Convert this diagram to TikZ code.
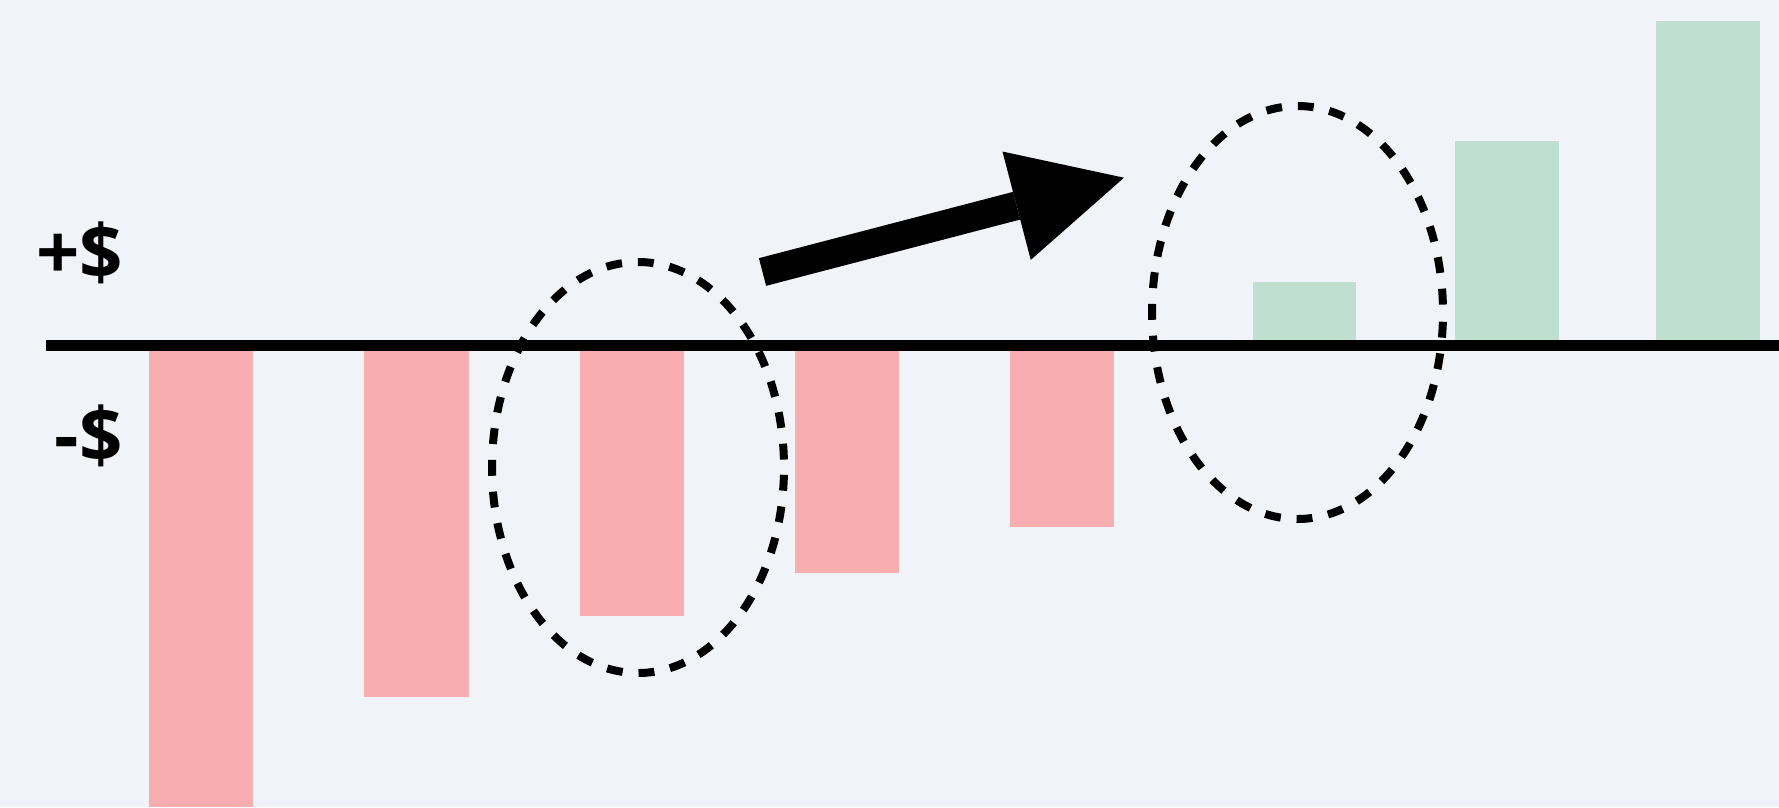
\documentclass[tikz,border=0pt]{standalone}
\usepackage{fontspec}
\setmainfont{Open Sans}
\usetikzlibrary{shapes.geometric,arrows.meta}
\definecolor{bg}{RGB}{240,244,248}
\definecolor{loss}{RGB}{248,174,176}
\definecolor{gain}{RGB}{191,223,209}
\tikzset{
  lossbar/.style={fill=loss},
  gainbar/.style={fill=gain},
  ring/.style={ellipse, draw=black, line width=8pt, dash pattern=on 15.9pt off 15.9pt, dash phase=23.85pt, inner sep=0pt},
  lbl/.style={anchor=east, inner sep=0pt, font=\fontsize{76}{76}\selectfont\bfseries},
  axisline/.style={line width=11pt},
  bigarrow/.style={line width=28.6pt, -{Triangle[length=111pt,width=112pt,line width=0pt 0]}}
}
\begin{document}
\begin{tikzpicture}[x=1pt,y=-1pt]
\useasboundingbox (0,0) rectangle (1779,807);
\fill[bg] (0,0) rectangle (1779,807);
% loss bars
\fill[lossbar] (149,345.5) rectangle (252.5,807);
\fill[lossbar] (364,345.5) rectangle (468.5,696.5);
\fill[lossbar] (580,345.5) rectangle (684,615.5);
\fill[lossbar] (795,345.5) rectangle (899,573);
\fill[lossbar] (1010,345.5) rectangle (1114,526.5);
% gain bars
\fill[gainbar] (1253,282) rectangle (1356,345.5);
\fill[gainbar] (1455,141) rectangle (1559,345.5);
\fill[gainbar] (1656,21) rectangle (1760,345.5);
% axis
\coordinate (axL) at (46,345.5);
\coordinate (axR) at (1779,345.5);
\draw[axisline] (axL) -- (axR);
% labels
\node[lbl] (plus) at (123,253) {+\$};
\node[lbl] (minus) at (123,436) {-\$};
% ellipses
\node[ring, minimum width=292pt, minimum height=411pt] (e1) at (638,467.5) {};
\node[ring, minimum width=291pt, minimum height=413pt] (e2) at (1297.5,312.5) {};
% arrow
\coordinate (tail) at (762.5,272);
\coordinate (tip) at (1124,177.7);
\draw[bigarrow] (tail) -- (tip);
\end{tikzpicture}
\end{document}
